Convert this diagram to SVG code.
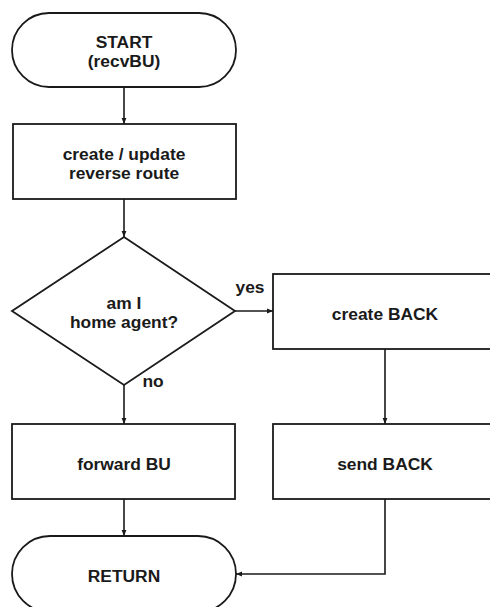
<svg xmlns="http://www.w3.org/2000/svg" width="490" height="607" viewBox="0 0 490 607">
  <style>
    .shape { fill: #fff; stroke: #1a1a1a; stroke-width: 1.8; }
    .edge { fill: none; stroke: #1a1a1a; stroke-width: 1.6; }
    text { font-family: "Liberation Sans", Arial, sans-serif; font-weight: bold; font-size: 17.4px; fill: #1a1a1a; text-anchor: middle; }
  </style>
  <defs>
    <marker id="arrow" viewBox="0 0 10 10" refX="10" refY="5" markerWidth="6" markerHeight="6" markerUnits="userSpaceOnUse" orient="auto">
      <path d="M0,1 L10,5 L0,9 Z" fill="#1a1a1a"/>
    </marker>
  </defs>
  <rect width="490" height="607" fill="#fff"/>

  <g id="connectors">
    <path class="edge" d="M124,87 V124" marker-end="url(#arrow)"/>
    <path class="edge" d="M124,199 V237" marker-end="url(#arrow)"/>
    <path class="edge" d="M235,311 H273" marker-end="url(#arrow)"/>
    <path class="edge" d="M124,385 V424" marker-end="url(#arrow)"/>
    <path class="edge" d="M385,349 V424" marker-end="url(#arrow)"/>
    <path class="edge" d="M124,499 V536" marker-end="url(#arrow)"/>
    <path class="edge" d="M385,499 V574 H236" marker-end="url(#arrow)"/>
    <text x="250" y="293">yes</text>
    <text x="153" y="387">no</text>
  </g>

  <g id="start">
    <rect class="shape" x="12" y="13" width="224" height="74" rx="37" ry="37"/>
    <text x="124" y="48">START</text>
    <text x="124" y="67">(recvBU)</text>
  </g>

  <g id="reverse-route">
    <rect class="shape" x="13" y="124" width="223" height="75"/>
    <text x="124" y="160">create / update</text>
    <text x="124" y="179">reverse route</text>
  </g>

  <g id="decision">
    <polygon class="shape" points="124,237 235,311 124,385 12,311"/>
    <text x="124" y="309">am I</text>
    <text x="124" y="328">home agent?</text>
  </g>

  <g id="create-back">
    <rect class="shape" x="273" y="274" width="225" height="75"/>
    <text x="385" y="320">create BACK</text>
  </g>

  <g id="forward-bu">
    <rect class="shape" x="12" y="424" width="223" height="75"/>
    <text x="124" y="470">forward BU</text>
  </g>

  <g id="send-back">
    <rect class="shape" x="273" y="424" width="225" height="75"/>
    <text x="385" y="470">send BACK</text>
  </g>

  <g id="return">
    <rect class="shape" x="12" y="536" width="224" height="76" rx="38" ry="38"/>
    <text x="124" y="582">RETURN</text>
  </g>
</svg>
